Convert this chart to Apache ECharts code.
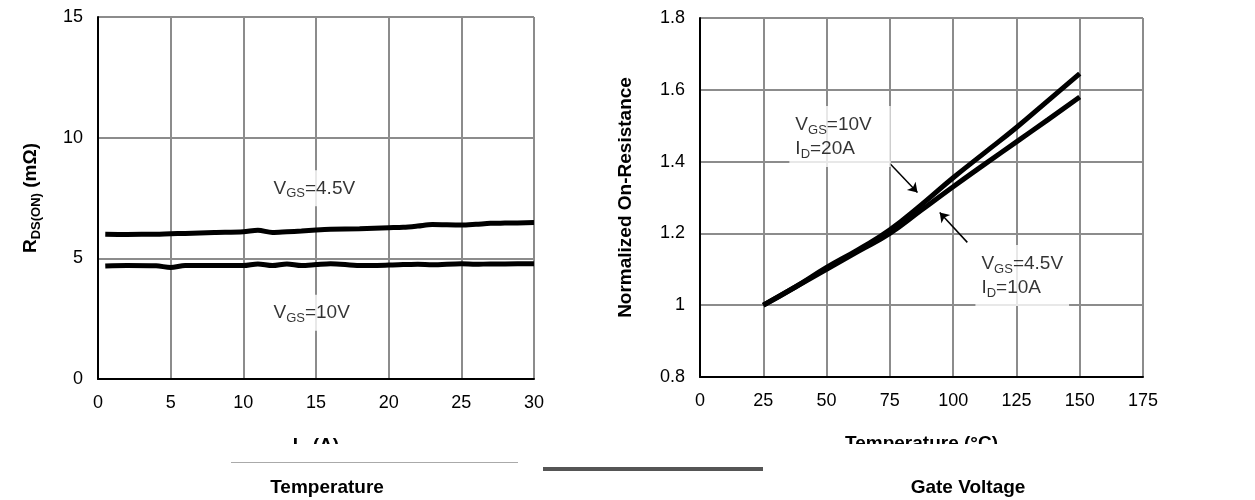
<!DOCTYPE html>
<html>
<head>
<meta charset="utf-8">
<script src="https://cdn.jsdelivr.net/npm/echarts@6/dist/echarts.min.js"></script>
<style>
html, body { margin: 0; padding: 0; background: #fff; }
#main { width: 1255px; height: 500px; }
</style>
</head>
<body>
<div id="main"></div>
<script>
// left: RDS(ON) vs drain current
var currentA = [0.5, 2, 4, 5, 6, 8, 10, 11, 12, 13, 14, 15, 16, 18, 20, 21, 22, 23, 25, 26, 27, 28, 30];
var rdsVgs45 = [6.0, 5.99, 6.0, 6.02, 6.03, 6.07, 6.1, 6.16, 6.07, 6.1, 6.13, 6.17, 6.2, 6.23, 6.27, 6.29, 6.34, 6.4, 6.38, 6.41, 6.45, 6.46, 6.48];
var rdsVgs10 = [4.68, 4.7, 4.69, 4.62, 4.7, 4.7, 4.7, 4.77, 4.7, 4.77, 4.7, 4.74, 4.78, 4.7, 4.72, 4.74, 4.76, 4.73, 4.78, 4.75, 4.77, 4.77, 4.78];

// right: normalized on-resistance vs temperature
var tempC = [25, 37.5, 50, 62.5, 75, 87.5, 100, 112.5, 125, 137.5, 150];
var normVgs10 = [1.0, 1.05, 1.105, 1.155, 1.21, 1.28, 1.355, 1.425, 1.495, 1.57, 1.645];
var normVgs45 = [1.0, 1.05, 1.10, 1.15, 1.20, 1.265, 1.33, 1.393, 1.455, 1.517, 1.58];

var leftTicks = { min: 0, max: 30, interval: 5 };
var leftYTicks = { min: 0, max: 15, interval: 5 };
var rightTicks = { min: 0, max: 175, interval: 25 };
var rightYTicks = { min: 0.8, max: 1.8, interval: 0.2 };

function pairs(xs, ys) {
    var out = [];
    for (var i = 0; i < xs.length; i++) out.push([xs[i], ys[i]]);
    return out;
}

var font = 'Liberation Sans, Arial, sans-serif';
var gridColor = '#8c8c8c';

var subRich = {
    sub: { fontSize: 13, fontFamily: font, color: '#000', verticalAlign: 'bottom', lineHeight: 24 },
    m: { fontSize: 19, fontFamily: font, color: '#000', lineHeight: 24 }
};
var nameRich = {
    sub: { fontSize: 13, fontFamily: font, fontWeight: 'bold', color: '#000', verticalAlign: 'bottom', lineHeight: 24 }
};

function valueAxis(idx, t, extra) {
    var a = {
        type: 'value', gridIndex: idx, min: t.min, max: t.max, interval: t.interval,
        axisLine: { show: true, onZero: false, lineStyle: { color: '#000', width: 2 } },
        axisTick: { show: false },
        axisLabel: { color: '#000', fontSize: 18, fontFamily: font, margin: 15 },
        splitLine: { show: true, lineStyle: { color: gridColor, width: 2 } },
        nameTextStyle: { color: '#000', fontSize: 19, fontWeight: 'bold', fontFamily: font, lineHeight: 24, rich: nameRich },
        nameLocation: 'middle'
    };
    for (var k in extra) a[k] = extra[k];
    return a;
}

// text annotation placed at a data point
function note(xi, yi, pt, text, pad) {
    return {
        type: 'scatter', xAxisIndex: xi, yAxisIndex: yi, symbolSize: 0, z: 5,
        data: [pt], silent: true,
        label: {
            show: true, position: 'right', distance: 0, formatter: text,
            backgroundColor: '#fff', padding: pad, rich: subRich,
            fontSize: 19, fontFamily: font, color: '#000', lineHeight: 24
        }
    };
}

function curve(xi, yi, data, smooth, extra) {
    var s = {
        type: 'line', xAxisIndex: xi, yAxisIndex: yi, data: data, smooth: smooth,
        showSymbol: false, z: 3,
        lineStyle: { color: '#000', width: 5 }
    };
    for (var k in extra) s[k] = extra[k];
    return s;
}

function arrow(from, to) {
    return [{ coord: from }, { coord: to }];
}

var chart = echarts.init(document.getElementById('main'));
chart.setOption({
    animation: false,
    backgroundColor: '#fff',
    grid: [
        { left: 98, right: 721, top: 17, bottom: 121 },
        { left: 700, right: 112, top: 18, bottom: 123 }
    ],
    xAxis: [
        valueAxis(0, leftTicks, { name: 'I{sub|D} (A)', nameGap: 55 }),
        valueAxis(1, rightTicks, { name: 'Temperature (°C)', nameGap: 55 })
    ],
    yAxis: [
        valueAxis(0, leftYTicks, { name: 'R{sub|DS(ON)} (mΩ)', nameGap: 55 }),
        valueAxis(1, rightYTicks, { name: 'Normalized On-Resistance', nameGap: 62 })
    ],
    series: [
        curve(0, 0, pairs(currentA, rdsVgs45), 0.3),
        curve(0, 0, pairs(currentA, rdsVgs10), 0.3),
        note(0, 0, [11.8, 7.9], '{m|V}{sub|GS}{m|=4.5V}', [6, 4, 6, 4]),
        note(0, 0, [11.8, 2.75], '{m|V}{sub|GS}{m|=10V}', [6, 4, 6, 4]),
        curve(1, 1, pairs(tempC, normVgs10), true, {
            markLine: {
                silent: true, symbol: ['none', 'arrow'], symbolSize: 9,
                label: { show: false },
                lineStyle: { color: '#000', width: 1.5, type: 'solid' },
                data: [arrow([75.1, 1.394], [85.9, 1.314]), arrow([105.6, 1.175], [94.7, 1.258])]
            }
        }),
        curve(1, 1, pairs(tempC, normVgs45), true),
        note(1, 1, [35.3, 1.47], '{m|V}{sub|GS}{m|=10V}\n{m|I}{sub|D}{m|=20A}', [7, 19, 6, 6]),
        note(1, 1, [108.8, 1.083], '{m|V}{sub|GS}{m|=4.5V}\n{m|I}{sub|D}{m|=10A}', [7, 6, 6, 6])
    ],
    graphic: [
        { type: 'rect', z: 100, shape: { x: 0, y: 444, width: 1255, height: 56 }, style: { fill: '#fff' } },
        { type: 'rect', z: 101, shape: { x: 231, y: 462, width: 287, height: 1 }, style: { fill: '#aaa' } },
        { type: 'rect', z: 101, shape: { x: 543, y: 467, width: 220, height: 4 }, style: { fill: '#555' } },
        { type: 'text', z: 101, x: 327, y: 488, style: { text: 'Temperature', fill: '#000', font: 'bold 19px ' + font, textAlign: 'center', textVerticalAlign: 'middle' } },
        { type: 'text', z: 101, x: 968, y: 488, style: { text: 'Gate Voltage', fill: '#000', font: 'bold 19px ' + font, textAlign: 'center', textVerticalAlign: 'middle' } }
    ]
});
</script>
</body>
</html>
